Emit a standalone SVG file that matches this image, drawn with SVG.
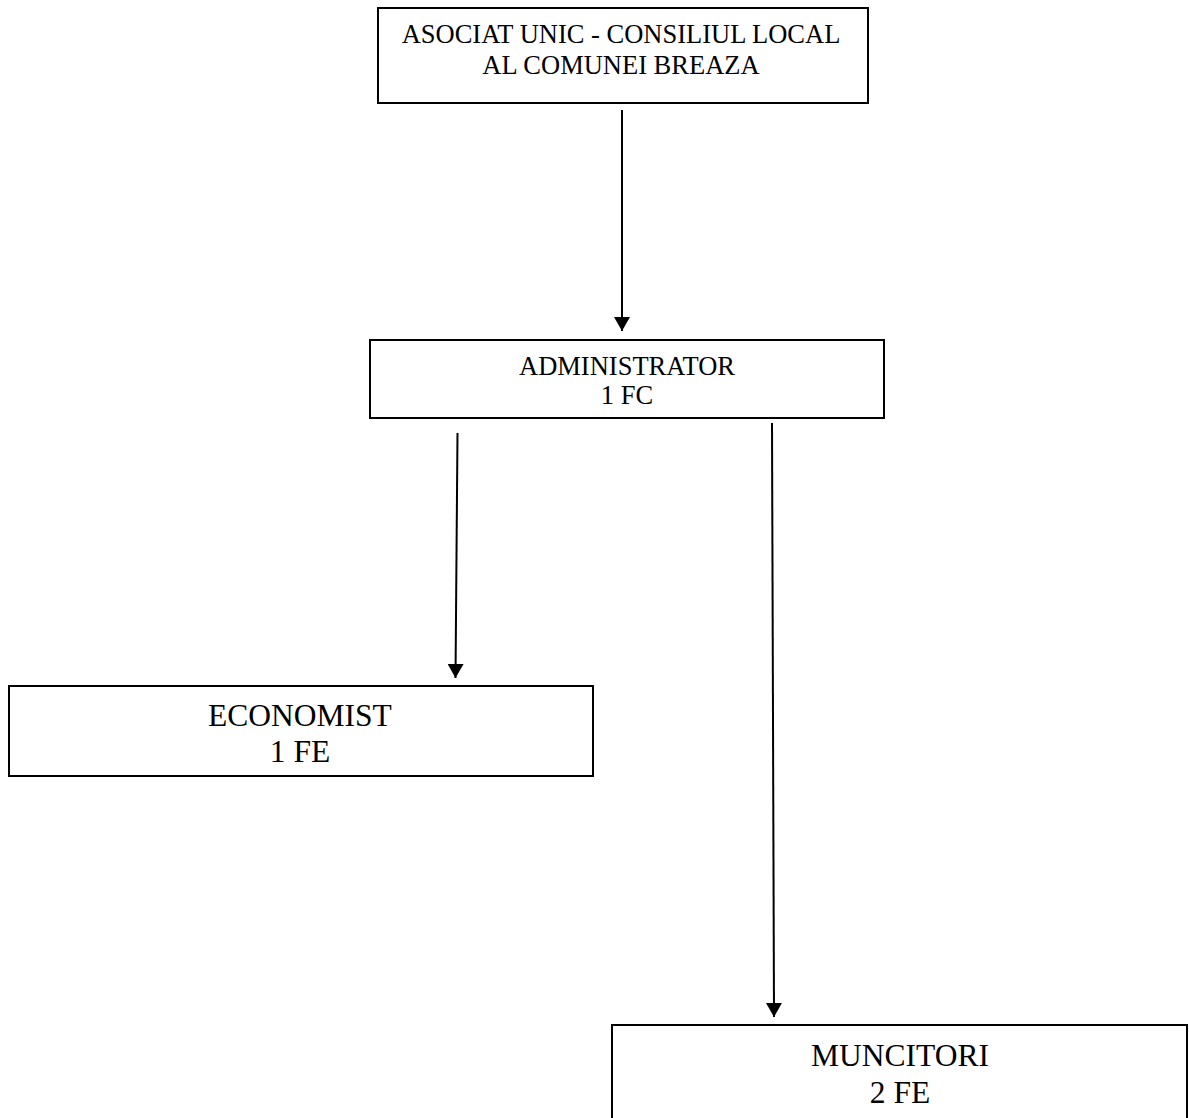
<svg xmlns="http://www.w3.org/2000/svg" width="1189" height="1118" viewBox="0 0 1189 1118">
<style>
.box{fill:#fff;stroke:#000;stroke-width:2}
.t{font-family:"Liberation Serif","Times New Roman",serif;fill:#000;text-anchor:middle}
.s{font-size:26.5px}
.l{font-size:31.5px}
.c{stroke:#000;stroke-width:2;fill:none}
</style>
<defs>
<marker id="arr" viewBox="0 0 14 16" refX="14" refY="8" markerWidth="14" markerHeight="16" orient="auto" markerUnits="userSpaceOnUse">
<path d="M0,0 L14,8 L0,16 Z" fill="#000"/>
</marker>
</defs>
<g id="connectors">
<line class="c" x1="622" y1="110" x2="622" y2="331" marker-end="url(#arr)"/>
<line class="c" x1="457.5" y1="433" x2="455.5" y2="678" marker-end="url(#arr)"/>
<line class="c" x1="772" y1="423" x2="774" y2="1017" marker-end="url(#arr)"/>
</g>
<g id="node-asociat">
<rect class="box" x="378" y="8" width="490" height="95"/>
<text class="t s" x="621" y="43">ASOCIAT UNIC - CONSILIUL LOCAL</text>
<text class="t s" x="621" y="74">AL COMUNEI BREAZA</text>
</g>
<g id="node-administrator">
<rect class="box" x="370" y="340" width="514" height="78"/>
<text class="t s" x="627" y="374.5">ADMINISTRATOR</text>
<text class="t s" x="627" y="404">1 FC</text>
</g>
<g id="node-economist">
<rect class="box" x="9" y="686" width="584" height="90"/>
<text class="t l" x="300" y="726">ECONOMIST</text>
<text class="t l" x="300" y="762">1 FE</text>
</g>
<g id="node-muncitori">
<rect class="box" x="612" y="1025" width="575" height="110"/>
<text class="t l" x="900" y="1066">MUNCITORI</text>
<text class="t l" x="900" y="1103">2 FE</text>
</g>
</svg>
